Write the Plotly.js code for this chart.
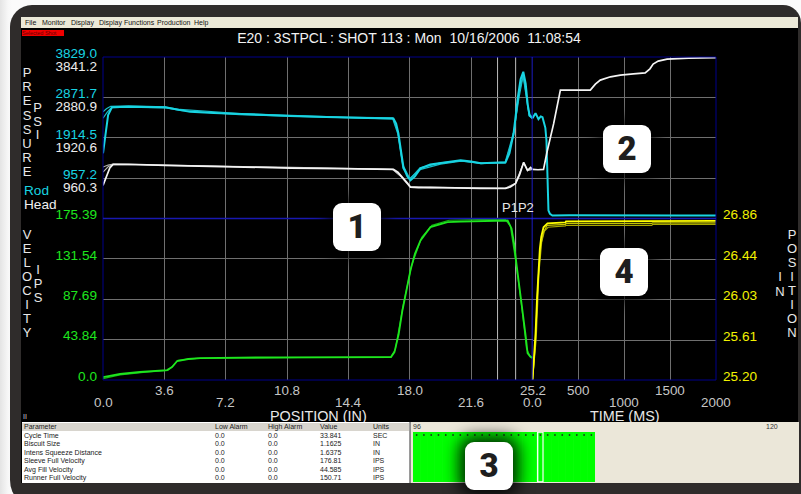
<!DOCTYPE html>
<html><head><meta charset="utf-8">
<script src="https://cdn.plot.ly/plotly-3.0.1.min.js"></script>
<style>
html,body{margin:0;padding:0;width:801px;height:494px;overflow:hidden;background:#f4f4f4;font-family:"Liberation Sans",Arial,sans-serif;}
.abs{position:absolute;}
#bg{left:0;top:0;width:801px;height:494px;background:linear-gradient(90deg,#e4e4e4 0px,#f7f7f7 8px,#fbfbfb 12px);}
#bezel{left:10px;top:5px;width:791px;height:505px;background:#2f2c2b;border-radius:22px 18px 0 30px;}
#screen{left:21px;top:17px;width:777px;height:466px;background:#000;}
#menu{left:21px;top:17px;width:777px;height:11px;background:#ece9d8;}
.mi{top:17px;font-size:7px;line-height:11px;color:#111;white-space:nowrap;}
#sel{left:22px;top:30px;width:42px;height:6px;background:#f00000;color:#600;font-size:5.5px;line-height:6px;overflow:hidden;white-space:nowrap;}
#chart{left:0;top:0;width:801px;height:494px;}
.st{width:20px;text-align:center;font-size:13px;line-height:14px;color:#e8e8e8;}
#table{left:22px;top:422px;width:387px;height:61px;background:#fff;border-right:1px solid #9a9a9a;}
#thead{left:22px;top:423px;width:387px;height:8px;background:#d8d5ce;}
.cell{font-size:7px;line-height:8px;color:#1a1a1a;white-space:nowrap;}
#panel{left:410px;top:422px;width:388px;height:61px;background:#ebe7d9;border-left:1px solid #8c8c8c;}
.pl{font-size:7px;line-height:8px;color:#333;}
#strip{left:413px;top:432px;width:182px;height:50px;}
.badge{width:48px;height:48px;background:#fff;border-radius:9px;box-shadow:0 0 16px 6px rgba(0,0,0,0.85);
 font-family:Roboto,"DejaVu Sans",sans-serif;font-weight:900;font-size:33px;line-height:48px;text-align:center;color:#1e1e1e;}
</style></head>
<body>
<div id="bg" class="abs"></div>
<div id="bezel" class="abs"></div>
<div id="screen" class="abs"></div>
<div id="menu" class="abs"></div>
<div id="sel" class="abs">Selected Shot</div>
<div id="chart" class="abs"></div>
<div id="table" class="abs"></div>
<div id="thead" class="abs"></div>
<div id="panel" class="abs"></div>
<div id="strip" class="abs"></div>
<script>
// ---------------- DATA ----------------
const posTickVals = [0, 3.6, 7.2, 10.8, 14.4, 18.0, 21.6, 25.2];
const posTickText = ['0.0','3.6','7.2','10.8','14.4','18.0','21.6','25.2'];
const timeTickVals = [0, 500, 1000, 1500, 2000];
const timeTickText = ['0.0','500','1000','1500','2000'];
const rodTicks = [957.2, 1914.5, 2871.7, 3829.0];
const rodTickText = ['957.2','1914.5','2871.7','3829.0'];
const headTicks = [960.3, 1920.6, 2880.9, 3841.2];
const headTickText = ['960.3','1920.6','2880.9','3841.2'];
const velTicks = [0, 43.84, 87.69, 131.54, 175.39];
const velTickText = ['0.0','43.84','87.69','131.54','175.39'];
const posInTicks = [25.20, 25.61, 26.03, 26.44, 26.86];
const posInTickText = ['25.20','25.61','26.03','26.44','26.86'];
const p1Pos = 23.15;
const p2Pos = 24.21;

// Rod pressure vs position (current shot)
const cyanX = [0,0.15,0.3,0.53,1.5,3.64,4.1,4.52,5.11,6.5,8.05,9.5,10.99,12.5,13.92,15.5,17.04,17.2,17.33,17.48,17.63,17.85,18.04,18.3,18.63,19.2,19.8,20.4,20.98,21.6,22.15,22.9,23.62,23.85,24.09,24.35,24.5,24.66,24.8,24.92,25.03,25.2];
const cyanY = [1546,2050,2450,2640,2650,2640,2600,2568,2528,2500,2473,2450,2433,2415,2395,2385,2371,2250,2021,1600,1213,1000,904,1000,1189,1280,1308,1340,1379,1350,1308,1320,1332,1550,2021,2900,3300,3479,3200,2700,2449,2378];
// Rod pressure vs position (previous shots)
const cyanBX = [0,0.2,0.45,1.5,3.64,4.5,8.0,11.0,14.0,17.0,17.3,17.6,18.0,18.6,19.8,21.0,22.2,23.6,24.1,24.4,24.65,25.0,25.2];
const cyanBY = [2528,2600,2660,2670,2650,2585,2490,2445,2405,2385,2060,1260,950,1160,1290,1360,1320,1315,1980,2950,3420,2480,2390];
const cyanCX = [0,0.25,0.5,1.5,3.64,4.5,8.0,11.0,14.0,17.0,17.3,17.6,18.0,18.6,19.8,21.0,22.2,23.6,24.1,24.4,24.65,25.0,25.2];
const cyanCY = [2378,2520,2630,2640,2625,2560,2460,2425,2390,2362,2000,1190,930,1200,1320,1365,1300,1340,2050,2850,3380,2430,2370];
// Rod pressure vs time (ms)
const cyanTX = [0,33,65,90,109,125,140,152,163,174,190,217,400,700,1000,1300,1600,2000];
const cyanTY = [2378,2497,2354,2420,2402,2283,2150,1855,1023,190,110,71,75,70,72,68,72,70];

// Head pressure vs position (current shot)
const whiteX = [0,0.2,0.4,0.59,1.5,3.64,6,8.5,10.99,14,16.86,17.04,17.3,17.57,17.86,18.04,18.5,19.21,20.5,22.15,23.62,23.9,24.21,24.45,24.68,24.8,24.91,25.09,25.2];
const whiteY = [787,1000,1200,1288,1290,1264,1240,1220,1200,1185,1169,1169,1100,985,842,747,735,739,725,716,716,750,835,1050,1336,1250,1145,1216,1169];
// Head pressure vs position (previous shots)
const whiteBX = [0,0.3,0.6,3.64,8.5,14,17.0,17.5,18.0,19.2,22.1,23.6,24.2,24.68,24.9,25.2];
const whiteBY = [1223,1270,1295,1270,1225,1190,1172,1000,760,745,720,720,840,1320,1150,1175];
const whiteCX = [0,0.3,0.6,3.64,8.5,14,17.0,17.5,18.0,19.2,22.1,23.6,24.2,24.68,24.9,25.2];
const whiteCY = [1104,1230,1285,1262,1215,1180,1165,990,750,730,712,712,830,1330,1140,1165];
// Head pressure vs time (ms)
const whiteTX = [0,60,120,160,230,304,450,630,685,739,850,957,1100,1228,1280,1315,1370,1467,1700,2000];
const whiteTY = [1169,1160,1169,1600,2250,3053,3055,3053,3196,3291,3370,3411,3440,3465,3560,3673,3744,3792,3815,3828];

// Velocity vs position (current shot)
const greenX = [0,0.5,1.0,2.17,3.0,3.76,4.05,4.35,5.0,5.7,8.0,11.6,14.5,16.9,17.1,17.35,17.57,17.8,18.04,18.3,18.63,19.21,19.8,20.21,21.0,21.97,23.0,23.74,23.97,24.12,24.27,24.45,24.62,24.8,24.91,25.09,25.2];
const greenY = [3.2,5.0,6.5,8.7,9.8,10.8,14.1,20.6,22.8,23.8,24.4,24.9,24.9,24.9,30.3,50,75.8,98,119.1,137,151.6,166.0,169.5,171.4,172.0,172.5,172.8,173.2,164.6,148,124.5,100,75.8,48,29.2,24.9,23.8];
// Velocity vs position (previous shot)
const greenBX = [0,1.0,2.5,3.8,4.1,4.4,5.5,10,16.9,17.15,17.6,18.1,18.7,19.3,20.3,22,23.6,23.9,24.2,24.55,24.85,25.05,25.2];
const greenBY = [1.5,5.5,8.5,10.5,15,21.5,23.5,24.5,25.5,33,80,124,155,168,173.5,174.2,174.5,167,131,82,34,26,25];

// Plunger position vs time (ms)
const yelX = [0,15,33,50,65,80,95,120,163,250,359,365,600,1000,1300,1310,2000];
const yelY = [25.20,25.40,25.68,26.05,26.36,26.55,26.67,26.77,26.81,26.815,26.82,26.83,26.83,26.83,26.83,26.835,26.835];
const yelBX = [0,40,70,100,130,170,359,365,1300,1310,2000];
const yelBY = [25.20,25.62,26.30,26.62,26.73,26.77,26.785,26.79,26.79,26.80,26.80];
const yelCX = [0,30,60,90,120,160,359,365,1300,1310,2000];
const yelCY = [25.20,25.55,26.22,26.58,26.72,26.79,26.80,26.81,26.81,26.815,26.815];

const chartTitle = 'E20 : 3STPCL : SHOT 113 : Mon\u00a0\u00a010/16/2006\u00a0\u00a011:08:54';
const menuItems = ['File','Monitor','Display','Display Functions','Production','Help'];

const paramNames = ['Cycle Time','Biscuit Size','Intens Squeeze Distance','Sleeve Full Velocity','Avg Fill Velocity','Runner Full Velocity'];
const lowAlarm = ['0.0','0.0','0.0','0.0','0.0','0.0'];
const highAlarm = ['0.0','0.0','0.0','0.0','0.0','0.0'];
const paramValues = ['33.841','1.1625','1.6375','176.81','44.585','150.71'];
const paramUnits = ['SEC','IN','IN','IPS','IPS','IPS'];
const tableHeader = ['Parameter','Low Alarm','High Alarm','Value','Units'];

const shotNums = [96,97,98,99,100,101,102,103,104,105,106,107,108,109,110,111,112,113,114,115,116,117,118,119,120];
const shotStatus = [1,1,1,1,1,1,1,1,1,1,1,1,1,1,1,1,1,1,1,1,1,1,1,1,1];
const selectedShot = 113;

// ---------------- CHROME (HTML) ----------------
function addDiv(cls, css, text){
  const d = document.createElement('div');
  d.className = 'abs ' + cls;
  Object.assign(d.style, css);
  d.textContent = text;
  document.body.appendChild(d);
  return d;
}
const menuLeft = [25, 42, 71, 99, 157, 194];
menuItems.forEach((m,i)=>addDiv('mi',{left:menuLeft[i]+'px'},m));

function stack(text, cx, y0, dy, color){
  for(let i=0;i<text.length;i++){
    addDiv('st',{left:(cx-10)+'px',top:(y0+i*dy-7)+'px',color:color},text[i]);
  }
}
stack('PRESSURE', 27, 73, 14.2, '#e8e8e8');
stack('PSI', 37.5, 108, 13.5, '#e8e8e8');
stack('VELOCITY', 27, 235, 14.05, '#e8e8e8');
stack('IPS', 38, 270, 14, '#e8e8e8');
stack('POSITION', 792, 235, 14.05, '#e8e8e8');
stack('IN', 780, 277, 15, '#e8e8e8');
addDiv('cell',{left:'23px',top:'413px',color:'#d0d0d0',fontSize:'7px'},'II');

const colLeft = [24, 215, 268, 320, 373];
tableHeader.forEach((h,i)=>addDiv('cell',{left:colLeft[i]+'px',top:'423px'},h));
paramNames.forEach((p,r)=>{
  const top = (431.5 + r*8.5)+'px';
  [p, lowAlarm[r], highAlarm[r], paramValues[r], paramUnits[r]].forEach((t,i)=>addDiv('cell',{left:colLeft[i]+'px',top:top},t));
});
addDiv('pl',{left:'413px',top:'423px'},String(shotNums[0]));
addDiv('pl',{left:'766px',top:'423px'},String(shotNums[shotNums.length-1]));

// ---------------- MAIN CHART ----------------
const CY = '#18d4e2', WH = '#f4f4f4', GR = '#1ee61e', YE = '#ffff00';
const traces = [
  {x:cyanBX,y:cyanBY,xaxis:'x2',yaxis:'y2',line:{color:'#16bcc8',width:1.2}},
  {x:cyanCX,y:cyanCY,xaxis:'x2',yaxis:'y2',line:{color:'#16bcc8',width:1.2}},
  {x:cyanX,y:cyanY,xaxis:'x2',yaxis:'y2',line:{color:CY,width:2}},
  {x:cyanTX,y:cyanTY,xaxis:'x4',yaxis:'y2',line:{color:CY,width:2}},
  {x:whiteBX,y:whiteBY,xaxis:'x2',yaxis:'y3',line:{color:'#b4b4b4',width:1.1}},
  {x:whiteCX,y:whiteCY,xaxis:'x2',yaxis:'y3',line:{color:'#b4b4b4',width:1.1}},
  {x:whiteX,y:whiteY,xaxis:'x2',yaxis:'y3',line:{color:WH,width:1.7}},
  {x:whiteTX,y:whiteTY,xaxis:'x4',yaxis:'y3',line:{color:WH,width:1.7}},
  {x:greenBX,y:greenBY,xaxis:'x',yaxis:'y',line:{color:'#14b414',width:1.2}},
  {x:greenX,y:greenY,xaxis:'x',yaxis:'y',line:{color:GR,width:1.8}},
  {x:yelBX,y:yelBY,xaxis:'x3',yaxis:'y4',line:{color:'#a6a600',width:1.2}},
  {x:yelCX,y:yelCY,xaxis:'x3',yaxis:'y4',line:{color:'#c4c400',width:1.2}},
  {x:yelX,y:yelY,xaxis:'x3',yaxis:'y4',line:{color:YE,width:1.8}}
].map(t=>Object.assign({type:'scatter',mode:'lines',hoverinfo:'skip'},t));

const L=103, R=716, T=57, B=380;
const W = R-L, H = B-T;
const split = (532.5-L)/W;
const GRID = '#6f6f6f';
const numFont = {family:'Liberation Sans, Arial', size:13.6};

function xAx(dom, range, anchor, vals){
  return {domain:dom, range:range, anchor:anchor, tickvals:vals, showticklabels:false, ticks:'',
    showgrid:true, gridcolor:GRID, gridwidth:1, zeroline:false, showline:false, fixedrange:true};
}
const annotations = [];
function tickAnn(xref, vals, texts){
  vals.forEach((v,i)=>{
    annotations.push({xref:xref, yref:'paper', x:v, y:0, xanchor:'center', yanchor:'middle',
      yshift:(i%2===0)?-22:-10, showarrow:false, text:texts[i],
      font:{family:'Liberation Sans, Arial', size:13.4, color:'#c6c6c6'}});
  });
}
tickAnn('x', posTickVals, posTickText);
tickAnn('x3', timeTickVals, timeTickText);
annotations.push({xref:'paper',yref:'paper',x:(318-L)/W,y:0,yshift:-36,xanchor:'center',yanchor:'middle',showarrow:false,
  text:'POSITION (IN)',font:{family:'Liberation Sans, Arial',size:14.4,color:'#e8e8e8'}});
annotations.push({xref:'paper',yref:'paper',x:(625-L)/W,y:0,yshift:-36,xanchor:'center',yanchor:'middle',showarrow:false,
  text:'TIME (MS)',font:{family:'Liberation Sans, Arial',size:14.4,color:'#e8e8e8'}});
annotations.push({xref:'x',yref:'paper',x:p1Pos,y:0.5,xshift:2,yshift:11,xanchor:'left',yanchor:'middle',showarrow:false,
  text:'P1P2',font:{family:'Liberation Sans, Arial',size:13,color:'#e6e6e6'}});
annotations.push({xref:'paper',yref:'paper',x:(22-L)/W,y:(B-190)/H,xanchor:'left',yanchor:'middle',showarrow:false,
  text:'Rod',font:{family:'Liberation Sans, Arial',size:13.6,color:CY}});
annotations.push({xref:'paper',yref:'paper',x:(22-L)/W,y:(B-204)/H,xanchor:'left',yanchor:'middle',showarrow:false,
  text:'Head',font:{family:'Liberation Sans, Arial',size:13.6,color:'#f0f0f0'}});

const layout = {
  width:801, height:494,
  margin:{l:L, r:801-R, t:T, b:494-B, pad:0},
  paper_bgcolor:'rgba(0,0,0,0)', plot_bgcolor:'rgba(0,0,0,0)',
  showlegend:false,
  font:{family:'Liberation Sans, Arial', color:'#e8e8e8'},
  title:{text:chartTitle, x:409/801, xanchor:'center', y:1-38/494, yanchor:'middle',
    font:{family:'Liberation Sans, Arial', size:14, color:'#f2f2f2'}},
  xaxis: xAx([0,split],[0,25.2],'y',posTickVals),
  xaxis2: xAx([0,split],[0,25.2],'y2',posTickVals),
  xaxis3: xAx([split,1],[0,2000],'y4',[500,1000,1500]),
  xaxis4: xAx([split,1],[0,2000],'y2',[500,1000,1500]),
  yaxis:{domain:[0,0.5], range:[0,175.39], anchor:'x', tickvals:velTicks, ticktext:velTickText,
    tickfont:Object.assign({color:'#1ee61e'},numFont), ticks:'', ticklabelshift:-4, ticklabelstandoff:5,
    showgrid:true, gridcolor:GRID, zeroline:false, showline:false, fixedrange:true},
  yaxis2:{domain:[0.5,1], range:[0,3829.0], anchor:'x2', tickvals:rodTicks, ticktext:rodTickText,
    tickfont:Object.assign({color:CY},numFont), ticks:'', ticklabelshift:-4, ticklabelstandoff:5,
    showgrid:true, gridcolor:GRID, zeroline:false, showline:false, fixedrange:true},
  yaxis3:{overlaying:'y2', side:'left', range:[0,3841.2], anchor:'x2', tickvals:headTicks, ticktext:headTickText,
    tickfont:Object.assign({color:'#ececec'},numFont), ticks:'', ticklabelshift:9, ticklabelstandoff:5,
    showgrid:false, zeroline:false, showline:false, fixedrange:true},
  yaxis4:{domain:[0,0.5], range:[25.2,26.86], anchor:'x3', side:'right', tickvals:posInTicks, ticktext:posInTickText,
    tickfont:Object.assign({color:'#f2f200'},numFont), ticks:'', ticklabelshift:-4, ticklabelstandoff:6,
    showgrid:true, gridcolor:GRID, zeroline:false, showline:false, fixedrange:true},
  shapes:[
    {type:'line',xref:'x',yref:'paper',x0:p1Pos,x1:p1Pos,y0:0,y1:1,line:{color:'#bcbcbc',width:1},layer:'below'},
    {type:'line',xref:'x',yref:'paper',x0:p2Pos,x1:p2Pos,y0:0,y1:1,line:{color:'#bcbcbc',width:1},layer:'below'},
    {type:'rect',xref:'paper',yref:'paper',x0:0,x1:1,y0:0,y1:1,line:{color:'#00008c',width:1}},
    {type:'line',xref:'paper',yref:'paper',x0:0,x1:1,y0:0.5,y1:0.5,line:{color:'#1818b0',width:1.5}},
    {type:'line',xref:'x',yref:'paper',x0:25.2,x1:25.2,y0:0,y1:1,line:{color:'#2424ff',width:1.5}}
  ],
  annotations:annotations
};
Plotly.newPlot('chart', traces, layout, {staticPlot:true, displayModeBar:false});

// ---------------- SHOT STRIP ----------------
const stripTraces = [
  {type:'bar', x:shotNums, y:shotStatus, hoverinfo:'skip',
   width:shotNums.map(s=>s===selectedShot?0.74:1.0),
   marker:{color:'#00ff00', line:{color:shotNums.map(s=>s===selectedShot?'#ffffff':'#00ff00'),
     width:shotNums.map(s=>s===selectedShot?1.3:0.8)}}},
  {type:'scatter', mode:'markers', x:shotNums, y:shotStatus.map(v=>v*0.94), hoverinfo:'skip',
   marker:{color:'#1a3a1a', size:1.8}}
];
Plotly.newPlot('strip', stripTraces, {
  width:182, height:50, margin:{l:0,r:0,t:0,b:0,pad:0}, showlegend:false, bargap:0,
  paper_bgcolor:'rgba(0,0,0,0)', plot_bgcolor:'rgba(0,0,0,0)',
  xaxis:{range:[95.5,120.5], visible:false, fixedrange:true},
  yaxis:{range:[0,1], visible:false, fixedrange:true}
}, {staticPlot:true, displayModeBar:false});

// ---------------- BADGES ----------------
addDiv('badge',{left:'333px',top:'203px'},'1');
addDiv('badge',{left:'603px',top:'125px'},'2');
addDiv('badge',{left:'465px',top:'442px'},'3');
addDiv('badge',{left:'600px',top:'248px'},'4');
</script>
</body></html>
